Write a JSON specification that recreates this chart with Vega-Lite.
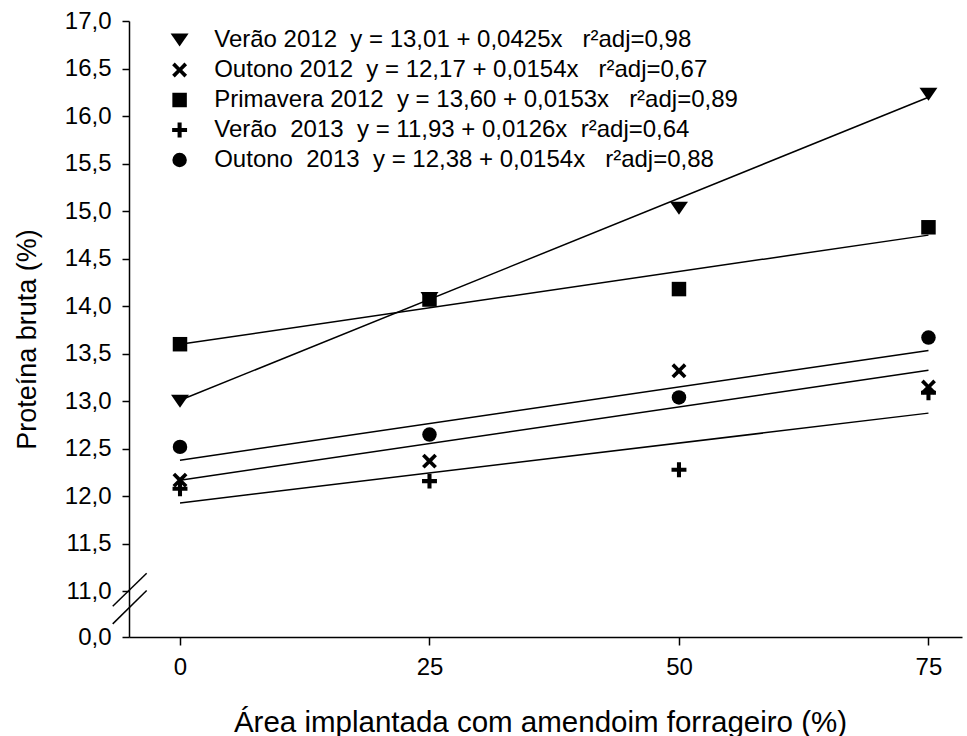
{
  "$schema": "https://vega.github.io/schema/vega-lite/v6.json",
  "width": 833,
  "height": 616,
  "autosize": {"type": "none"},
  "padding": {"left": 129, "top": 21, "right": 5, "bottom": 99},
  "background": "white",
  "config": {
    "view": {"stroke": null},
    "font": "Liberation Sans",
    "axis": {
      "grid": false,
      "domainColor": "black",
      "domainWidth": 1.5,
      "tickColor": "black",
      "tickWidth": 1.5,
      "labelColor": "black",
      "labelFont": "Liberation Sans",
      "labelFontSize": 24,
      "titleFont": "Liberation Sans",
      "titleFontWeight": "normal",
      "titleColor": "black"
    }
  },
  "datasets": {
    "pts": [
      {"serie": "Verão 2012", "area": 0, "pb": 13.0},
      {"serie": "Verão 2012", "area": 25, "pb": 14.08},
      {"serie": "Verão 2012", "area": 50, "pb": 15.03},
      {"serie": "Verão 2012", "area": 75, "pb": 16.23},
      {"serie": "Outono 2012", "area": 0, "pb": 12.17},
      {"serie": "Outono 2012", "area": 25, "pb": 12.37},
      {"serie": "Outono 2012", "area": 50, "pb": 13.32},
      {"serie": "Outono 2012", "area": 75, "pb": 13.15},
      {"serie": "Primavera 2012", "area": 0, "pb": 13.6},
      {"serie": "Primavera 2012", "area": 25, "pb": 14.07},
      {"serie": "Primavera 2012", "area": 50, "pb": 14.18},
      {"serie": "Primavera 2012", "area": 75, "pb": 14.83},
      {"serie": "Verão 2013", "area": 0, "pb": 12.08},
      {"serie": "Verão 2013", "area": 25, "pb": 12.16},
      {"serie": "Verão 2013", "area": 50, "pb": 12.28},
      {"serie": "Verão 2013", "area": 75, "pb": 13.09},
      {"serie": "Outono 2013", "area": 0, "pb": 12.52},
      {"serie": "Outono 2013", "area": 25, "pb": 12.65},
      {"serie": "Outono 2013", "area": 50, "pb": 13.04},
      {"serie": "Outono 2013", "area": 75, "pb": 13.67}
    ],
    "fits": [
      {"serie": "Verão 2012", "area": 0, "pb": 13.01},
      {"serie": "Verão 2012", "area": 75, "pb": 16.1975},
      {"serie": "Outono 2012", "area": 0, "pb": 12.17},
      {"serie": "Outono 2012", "area": 75, "pb": 13.325},
      {"serie": "Primavera 2012", "area": 0, "pb": 13.6},
      {"serie": "Primavera 2012", "area": 75, "pb": 14.7475},
      {"serie": "Verão 2013", "area": 0, "pb": 11.93},
      {"serie": "Verão 2013", "area": 75, "pb": 12.875},
      {"serie": "Outono 2013", "area": 0, "pb": 12.38},
      {"serie": "Outono 2013", "area": 75, "pb": 13.535}
    ],
    "brk": [
      {"x1": -6.74, "x2": -3.34, "y1": 10.843, "y2": 11.19},
      {"x1": -6.74, "x2": -3.34, "y1": 10.658, "y2": 11.01}
    ]
  },
  "layer": [
    {
      "data": {"name": "brk"},
      "mark": {"type": "rule", "color": "black", "strokeWidth": 1.5},
      "encoding": {
        "x": {"field": "x1", "type": "quantitative"},
        "x2": {"field": "x2"},
        "y": {"field": "y1", "type": "quantitative"},
        "y2": {"field": "y2"}
      }
    },
    {
      "data": {"name": "fits"},
      "mark": {"type": "line", "color": "black", "strokeWidth": 1.5},
      "encoding": {
        "x": {"field": "area", "type": "quantitative"},
        "y": {"field": "pb", "type": "quantitative"},
        "detail": {"field": "serie"}
      }
    },
    {
      "data": {"name": "pts"},
      "mark": {"type": "point", "filled": true, "color": "black", "opacity": 1, "size": 210},
      "encoding": {
        "x": {
          "field": "area",
          "type": "quantitative",
          "scale": {"domain": [-5.11, 78.36], "nice": false, "zero": false},
          "axis": {
            "values": [0, 25, 50, 75],
            "tickSize": 8,
            "labelPadding": 10,
            "title": "Área implantada com amendoim forrageiro (%)",
            "titleFontSize": 29.5,
            "titleX": 411,
            "titleY": 94,
            "titleBaseline": "alphabetic"
          }
        },
        "y": {
          "field": "pb",
          "type": "quantitative",
          "scale": {"domain": [10.52, 17], "nice": false, "zero": false},
          "axis": {
            "values": [10.52, 11, 11.5, 12, 12.5, 13, 13.5, 14, 14.5, 15, 15.5, 16, 16.5, 17],
            "labelExpr": "datum.value < 10.8 ? '0,0' : replace(format(datum.value, '.1f'), '.', ',')",
            "tickSize": 7,
            "labelPadding": 11,
            "title": "Proteína bruta (%)",
            "titleFontSize": 27,
            "titleX": -102,
            "titleY": 318,
            "titleBaseline": "middle"
          }
        },
        "shape": {
          "field": "serie",
          "type": "nominal",
          "scale": {
            "domain": ["Verão 2012", "Outono 2012", "Primavera 2012", "Verão 2013", "Outono 2013"],
            "range": [
              "M-1.24,-0.9L1.24,-0.9L0,0.9Z",
              "M0,-0.36L0.67,-1.03L1.03,-0.67L0.36,0L1.03,0.67L0.67,1.03L0,0.36L-0.67,1.03L-1.03,0.67L-0.36,0L-1.03,-0.67L-0.67,-1.03Z",
              "square",
              "M-1.03,-0.28H-0.28V-1.03H0.28V-0.28H1.03V0.28H0.28V1.03H-0.28V0.28H-1.03Z",
              "circle"
            ]
          },
          "legend": {
            "orient": "none",
            "legendX": 38.6,
            "legendY": 7,
            "title": null,
            "padding": 0,
            "labelFont": "Liberation Sans",
            "labelFontSize": 24,
            "labelColor": "black",
            "labelLimit": 900,
            "labelOffset": 22.6,
            "rowPadding": 6,
            "symbolSize": 210,
            "symbolFillColor": "black",
            "symbolStrokeColor": "black",
            "symbolStrokeWidth": 0,
            "symbolOpacity": 1,
            "labelExpr": "datum.label == 'Verão 2012' ? 'Verão 2012\u00a0 y = 13,01 + 0,0425x \u00a0 r²adj=0,98' : datum.label == 'Outono 2012' ? 'Outono 2012\u00a0 y = 12,17 + 0,0154x \u00a0 r²adj=0,67' : datum.label == 'Primavera 2012' ? 'Primavera 2012\u00a0 y = 13,60 + 0,0153x \u00a0 r²adj=0,89' : datum.label == 'Verão 2013' ? 'Verão\u00a0 2013\u00a0 y = 11,93 + 0,0126x\u00a0 r²adj=0,64' : 'Outono\u00a0 2013\u00a0 y = 12,38 + 0,0154x \u00a0 r²adj=0,88'"
          }
        }
      }
    }
  ]
}
